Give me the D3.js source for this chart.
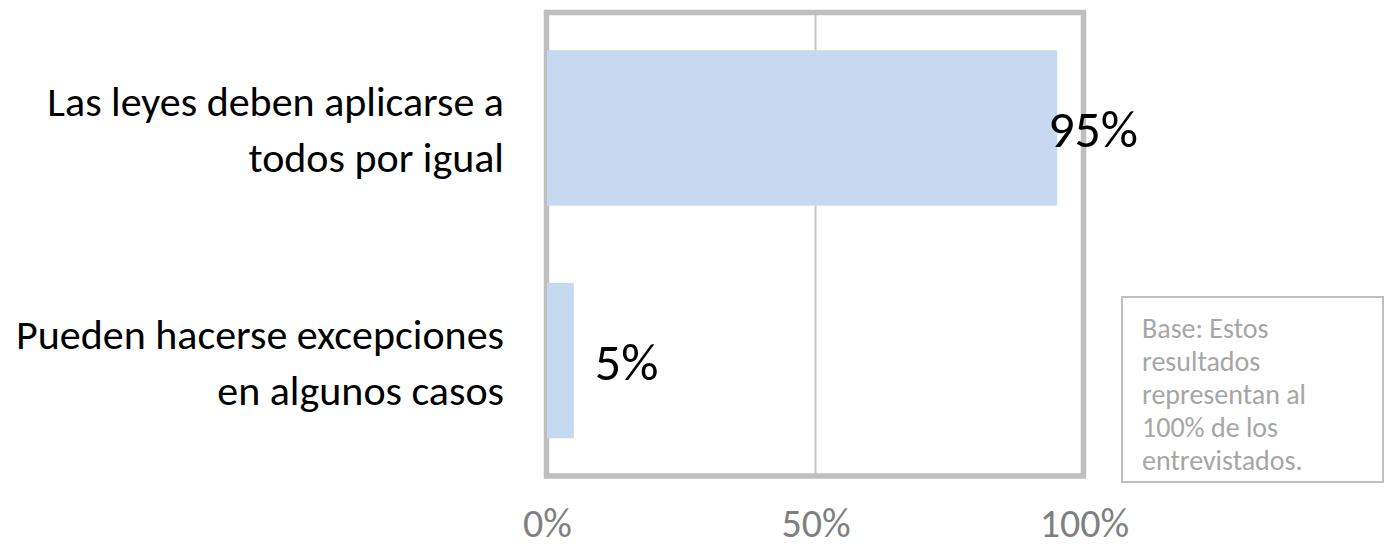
<!DOCTYPE html>
<html>
<head>
<meta charset="utf-8">
<script src="https://cdn.jsdelivr.net/npm/d3@7"></script>
<style>
  body { margin: 0; background: #fff; }
  text { font-family: Carlito, Calibri, Lato, sans-serif; }
</style>
</head>
<body>
<div id="chart"></div>
<script>
// data
const categories = [
  ["Las leyes deben aplicarse a", "todos por igual"],
  ["Pueden hacerse excepciones", "en algunos casos"]
];
const values = [0.95, 0.05];
const tickValues = [0, 0.5, 1];
const tickLabels = ["0%", "50%", "100%"];
const noteLines = ["Base: Estos", "resultados", "representan al", "100% de los", "entrevistados."];

const width = 1385;
const height = 547;
const plot = { left: 547, right: 1084, top: 12.5, bottom: 476 };

const svg = d3.select('#chart')
  .append('svg')
  .attr('width', width)
  .attr('height', height);

const x = d3.scaleLinear().domain([0, 1]).range([plot.left, plot.right]);
const y = d3.scaleBand()
  .domain(d3.range(categories.length))
  .range([plot.top, plot.bottom])
  .paddingInner(0.332)
  .paddingOuter(0.162);

// gridline at 50%
svg.append('line')
  .attr('x1', x(0.5)).attr('x2', x(0.5))
  .attr('y1', plot.top).attr('y2', plot.bottom)
  .style('stroke', '#c8c8c8')
  .style('stroke-width', 2);

// plot frame
svg.append('rect')
  .attr('x', plot.left - 0.5)
  .attr('y', plot.top)
  .attr('width', plot.right - plot.left)
  .attr('height', plot.bottom - plot.top)
  .style('fill', 'none')
  .style('stroke', '#bfbfbf')
  .style('stroke-width', 5.5);

// bars
svg.selectAll('rect.bar')
  .data(values)
  .enter().append('rect')
  .attr('class', 'bar')
  .attr('x', x(0))
  .attr('y', (d, i) => y(i))
  .attr('width', d => x(d) - x(0))
  .attr('height', y.bandwidth())
  .style('fill', '#c6d9f1');

// value labels
const labelDx = [-9, 21];
svg.selectAll('text.value')
  .data(values)
  .enter().append('text')
  .attr('class', 'value')
  .attr('x', (d, i) => x(d) + labelDx[i])
  .attr('y', (d, i) => y(i) + y.bandwidth() / 2 + 19)
  .style('font-size', '52px')
  .style('fill', '#000')
  .text(d => Math.round(d * 100) + '%');

// category labels
const cat = svg.selectAll('text.cat')
  .data(categories)
  .enter().append('text')
  .attr('class', 'cat')
  .attr('text-anchor', 'end')
  .style('font-size', '42px')
  .style('fill', '#000');
cat.selectAll('tspan')
  .data((d, i) => d.map(s => ({ s: s, i: i })))
  .enter().append('tspan')
  .attr('x', 504)
  .attr('y', (d, j) => y(d.i) + y.bandwidth() / 2 - 12 + j * 56)
  .text(d => d.s);

// x axis labels
const xAxis = d3.axisBottom(x)
  .tickValues(tickValues)
  .tickFormat((d, i) => tickLabels[i])
  .tickSize(0)
  .tickPadding(0);
const ax = svg.append('g')
  .attr('transform', 'translate(0,' + 537 + ')')
  .call(xAxis);
ax.select('.domain').remove();
ax.selectAll('text')
  .attr('y', 0)
  .attr('dy', 0)
  .style('font-family', 'Carlito, Calibri, Lato, sans-serif')
  .style('font-size', '40px')
  .style('fill', '#808080');

// note box
svg.append('rect')
  .attr('x', 1122)
  .attr('y', 297)
  .attr('width', 261)
  .attr('height', 185)
  .style('fill', '#fff')
  .style('stroke', '#bfbfbf')
  .style('stroke-width', 2);
svg.append('text')
  .style('font-size', '28px')
  .style('fill', '#a6a6a6')
  .selectAll('tspan')
  .data(noteLines)
  .enter().append('tspan')
  .attr('x', 1142)
  .attr('y', (d, i) => 338 + i * 33)
  .text(d => d);
</script>
</body>
</html>
